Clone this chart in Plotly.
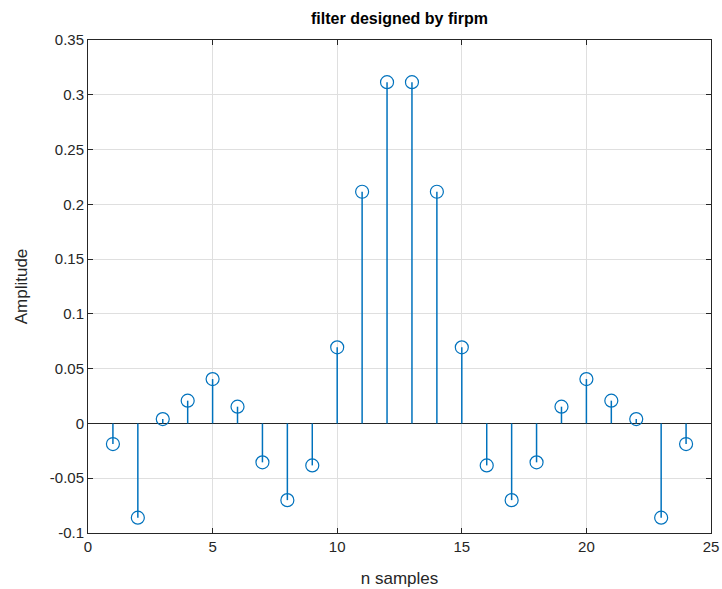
import plotly.graph_objects as go

n = list(range(1, 25))
h = [-0.0188, -0.0860, 0.0040, 0.0208, 0.0405, 0.0153, -0.0355, -0.0700, -0.0383, 0.0695, 0.2115, 0.3115,
     0.3115, 0.2115, 0.0695, -0.0383, -0.0700, -0.0355, 0.0153, 0.0405, 0.0208, 0.0040, -0.0860, -0.0188]

x_ticks = [0, 5, 10, 15, 20, 25]
x_labels = ["0", "5", "10", "15", "20", "25"]
y_ticks = [-0.1, -0.05, 0, 0.05, 0.1, 0.15, 0.2, 0.25, 0.3, 0.35]
y_labels = ["-0.1", "-0.05", "0", "0.05", "0.1", "0.15", "0.2", "0.25", "0.3", "0.35"]

color = "#0072BD"
font = "Liberation Sans, Arial, Helvetica, sans-serif"

sx, sy = [], []
for xi, yi in zip(n, h):
    sx += [xi, xi, None]
    sy += [0, yi, None]

fig = go.Figure()
fig.add_trace(go.Scatter(x=sx, y=sy, mode="lines", line=dict(color=color, width=1.5),
                         hoverinfo="skip", showlegend=False))
fig.add_trace(go.Scatter(x=n, y=h, mode="markers",
                         marker=dict(symbol="circle-open", size=13, color=color, line=dict(width=1.2)),
                         showlegend=False))

axis_common = dict(showline=True, linecolor="#262626", linewidth=1, mirror="allticks",
                   ticks="inside", ticklen=5, tickcolor="#262626",
                   showgrid=True, gridcolor="#DFDFDF", gridwidth=1,
                   tickfont=dict(family=font, size=15, color="#262626"))

fig.update_xaxes(range=[0, 25], tickvals=x_ticks, ticktext=x_labels, zeroline=False,
                 title=dict(text="n samples", font=dict(family=font, size=17, color="#262626"), standoff=18),
                 **axis_common)
fig.update_yaxes(range=[-0.1, 0.35], tickvals=y_ticks, ticktext=y_labels,
                 zeroline=True, zerolinecolor="#262626", zerolinewidth=1,
                 title=dict(text="Amplitude", font=dict(family=font, size=17, color="#262626"), standoff=17),
                 **axis_common)

fig.update_layout(
    width=722, height=589,
    margin=dict(l=88, r=11, t=40, b=56, autoexpand=False),
    paper_bgcolor="white", plot_bgcolor="white",
    title=dict(text="<b>filter designed by firpm</b>", x=(88 + 711) / 2 / 722, xanchor="center",
               y=1 - 18 / 589, yanchor="middle",
               font=dict(family=font, size=16, color="black")),
)

fig.write_html("out.html", config={"displayModeBar": False},
               post_script="document.body.style.margin='0';")
